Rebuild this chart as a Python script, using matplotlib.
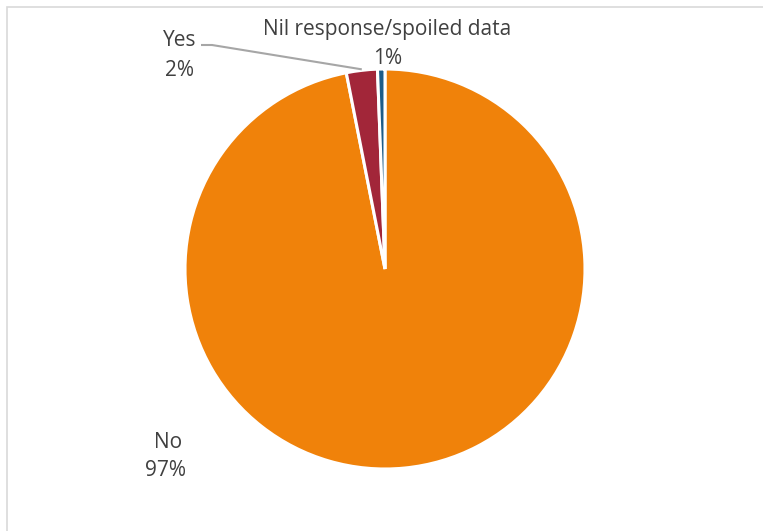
import matplotlib
matplotlib.use("Agg")
import matplotlib.pyplot as plt
import numpy as np
from matplotlib.patches import Rectangle

categories = ["No", "Yes", "Nil response/spoiled data"]
values = [96.9, 2.5, 0.6]
pct_labels = ["97%", "2%", "1%"]
colors = ["#F0820A", "#A22639", "#1D5C88"]

W, H = 763, 531
fig = plt.figure(figsize=(W / 100, H / 100), dpi=100)
ax = fig.add_axes([0, 0, 1, 1])

# chart frame
ax.add_patch(Rectangle((7, -10), W + 10, H - 7 + 10, fill=False, edgecolor="#D9D9D9", lw=1.2))

cx, cy, R = 385, H - 269, 200
wedges, _ = ax.pie(values, colors=colors, startangle=90, counterclock=False,
                   center=(cx, cy), radius=R, frame=True,
                   wedgeprops=dict(edgecolor="white", linewidth=2.2))
ax.set_xlim(0, W)
ax.set_ylim(0, H)
ax.set_aspect("equal")
ax.axis("off")

tc = "#404040"
fs = 15
font = "Open Sans"
# No label
ax.text(168, H - 442, categories[0], ha="center", va="center", fontsize=fs, color=tc, family=font)
ax.text(166, H - 470, pct_labels[0], ha="center", va="center", fontsize=fs, color=tc, family=font)
# Yes label
ax.text(180, H - 40, categories[1], ha="center", va="center", fontsize=fs, color=tc, family=font)
ax.text(180, H - 71, pct_labels[1], ha="center", va="center", fontsize=fs, color=tc, family=font)
# Nil label
ax.text(387, H - 29, categories[2], ha="center", va="center", fontsize=fs, color=tc, family=font)
ax.text(388, H - 58, pct_labels[2], ha="center", va="center", fontsize=fs, color=tc, family=font)

# leader line for Yes to its wedge
w = wedges[1]
mid = np.deg2rad((w.theta1 + w.theta2) / 2)
ex, ey = cx + R * np.cos(mid), cy + R * np.sin(mid) + 1
ax.plot([201, 212, ex], [H - 45, H - 45, ey], color="#A6A6A6", lw=1.5, solid_capstyle="butt")

fig.savefig("out.png", dpi=100, facecolor="white")
